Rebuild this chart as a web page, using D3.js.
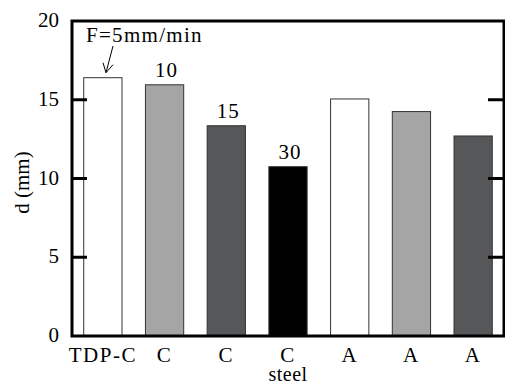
<!DOCTYPE html>
<html>
<head>
<meta charset="utf-8">
<script src="https://cdn.jsdelivr.net/npm/d3@7"></script>
<style>
  body { margin: 0; background: #fff; }
</style>
</head>
<body>
<svg id="chart" width="505" height="385" font-family="'Times New Roman', 'Liberation Serif', Times, serif"></svg>
<script>
// data
var labels = ["TDP-C", "C", "C", "C", "A", "A", "A"];
var values = [16.4, 15.95, 13.35, 10.75, 15.05, 14.25, 12.7];
var fills = ["#ffffff", "#a5a5a5", "#565759", "#000000", "#ffffff", "#a5a5a5", "#565759"];
var barNotes = ["", "10", "15", "30", "", "", ""];
var yTicks = [0, 5, 10, 15, 20];

var svg = d3.select("#chart");
var plotL = 72, plotR = 504, plotT = 21, plotB = 336;

var x = d3.scaleBand()
	.domain(d3.range(labels.length))
	.range([plotL, plotR])
	.paddingInner(0.38)
	.paddingOuter(0.19);

var y = d3.scaleLinear().domain([0, 20]).range([plotB, plotT]);

// bars
svg.append("g").selectAll("rect")
	.data(values).enter().append("rect")
	.attr("x", function(d, i) { return x(i); })
	.attr("y", function(d) { return y(d); })
	.attr("width", x.bandwidth())
	.attr("height", function(d) { return y(0) - y(d); })
	.attr("fill", function(d, i) { return fills[i]; })
	.attr("stroke", "#333")
	.attr("stroke-width", 1);

// frame
svg.append("rect")
	.attr("x", plotL).attr("y", plotT)
	.attr("width", plotR - plotL).attr("height", plotB - plotT)
	.attr("fill", "none").attr("stroke", "#000").attr("stroke-width", 3);

// ticks inside, both sides
var inner = yTicks.filter(function(d) { return d > 0 && d < 20; });
svg.append("g").selectAll("line")
	.data(inner).enter().append("line")
	.attr("x1", plotL).attr("x2", plotL + 15)
	.attr("y1", function(d) { return y(d); })
	.attr("y2", function(d) { return y(d); })
	.attr("stroke", "#000").attr("stroke-width", 3);
svg.append("g").selectAll("line")
	.data(inner).enter().append("line")
	.attr("x1", plotR - 16).attr("x2", plotR)
	.attr("y1", function(d) { return y(d); })
	.attr("y2", function(d) { return y(d); })
	.attr("stroke", "#000").attr("stroke-width", 3);

// tick labels
svg.append("g").selectAll("text")
	.data(yTicks).enter().append("text")
	.attr("x", plotL - 13)
	.attr("y", function(d) { return y(d) + 6; })
	.attr("text-anchor", "end")
	.style("font-size", "21px")
	.text(function(d) { return d; });

// category labels
svg.append("g").selectAll("text")
	.data(labels).enter().append("text")
	.attr("x", function(d, i) { return x(i) + x.bandwidth() / 2; })
	.attr("y", 362)
	.attr("text-anchor", "middle")
	.style("font-size", "21px")
	.style("letter-spacing", "1.5px")
	.text(function(d) { return d; });

svg.append("text")
	.attr("x", x(3) + x.bandwidth() / 2)
	.attr("y", 381)
	.attr("text-anchor", "middle")
	.style("font-size", "20px")
	.style("letter-spacing", "0.5px")
	.text("steel");

// y title
svg.append("text")
	.attr("transform", "translate(29," + ((plotT + plotB) / 2 + 4) + ") rotate(-90)")
	.attr("text-anchor", "middle")
	.style("font-size", "21px")
	.text("d (mm)");

// speed notes above bars
svg.append("g").selectAll("text")
	.data(values).enter().append("text")
	.attr("x", function(d, i) { return x(i) + x.bandwidth() / 2 + 2; })
	.attr("y", function(d) { return y(d) - 8; })
	.attr("text-anchor", "middle")
	.style("font-size", "21px")
	.style("letter-spacing", "1px")
	.text(function(d, i) { return barNotes[i]; });

svg.append("text")
	.attr("x", 86).attr("y", 42)
	.style("font-size", "21px")
	.style("letter-spacing", "1.3px")
	.text("F=5mm/min");

// arrow to first bar
var tipX = 106, tipY = y(values[0]) - 5;
svg.append("path")
	.attr("d", "M113,46L" + tipX + "," + tipY +
		"M" + (tipX - 3) + "," + (tipY - 10) + "L" + tipX + "," + tipY + "L" + (tipX + 7) + "," + (tipY - 8))
	.attr("fill", "none").attr("stroke", "#000").attr("stroke-width", 1);
</script>
</body>
</html>
